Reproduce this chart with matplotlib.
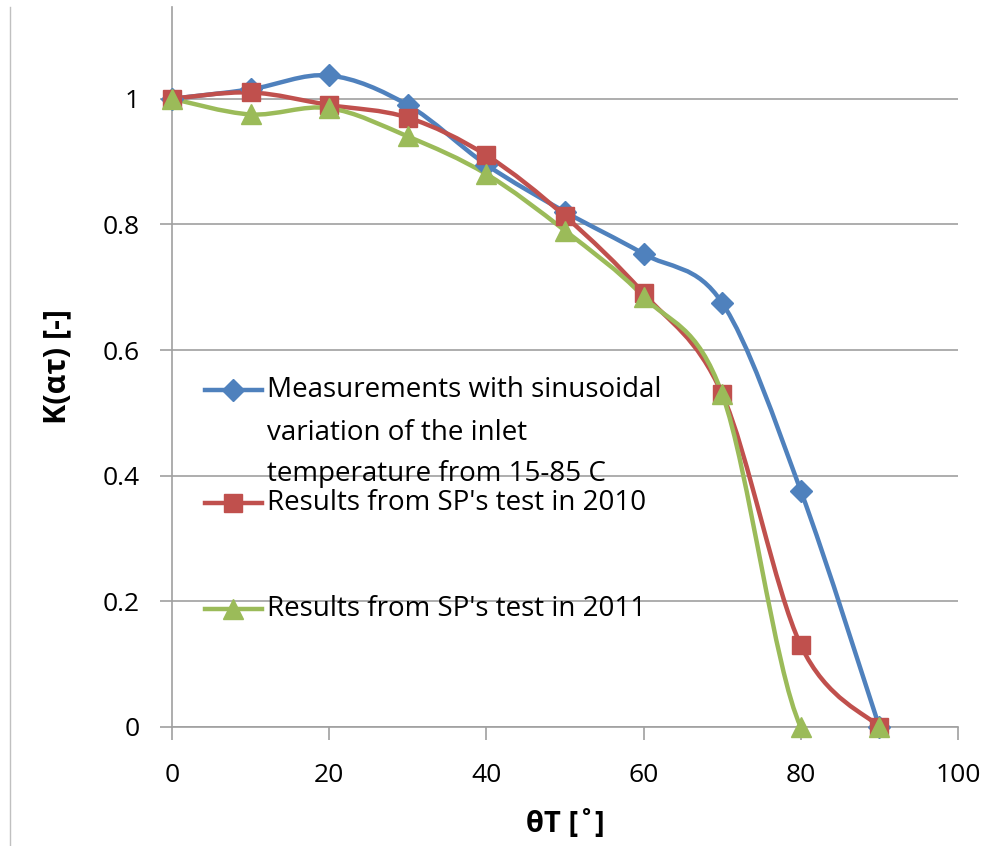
import matplotlib
matplotlib.use('Agg')
import matplotlib.pyplot as plt
from matplotlib.path import Path
from matplotlib.patches import PathPatch
from matplotlib.lines import Line2D
import numpy as np

plt.rcParams['font.family'] = ['Open Sans', 'DejaVu Sans']

# data
angles = [0, 10, 20, 30, 40, 50, 60, 70, 80, 90]
k_sinus = [1.0, 1.015, 1.037, 0.99, 0.895, 0.82, 0.753, 0.675, 0.376, 0.0]
k_2010 = [1.0, 1.01, 0.99, 0.97, 0.91, 0.813, 0.69, 0.53, 0.13, 0.0]
k_2011 = [1.0, 0.975, 0.985, 0.94, 0.88, 0.79, 0.685, 0.53, 0.0, 0.0]

labels = [["Measurements with sinusoidal", "variation of the inlet", "temperature from 15-85 C"],
          ["Results from SP's test in 2010"],
          ["Results from SP's test in 2011"]]
colors = ['#4F81BD', '#C0504D', '#9BBB59']
markers = ['D', 's', '^']
msizes = [11, 13, 15]


def smooth_path(x, y):
    # Excel-like smoothed line: cubic bezier through the points
    p = np.column_stack([x, y]).astype(float)
    n = len(p)
    verts = [p[0]]
    codes = [Path.MOVETO]
    for i in range(n - 1):
        p0 = p[i - 1] if i > 0 else p[i]
        p1 = p[i]
        p2 = p[i + 1]
        p3 = p[i + 2] if i + 2 < n else p[i + 1]
        c1 = p1 + (p2 - p0) / 6.0
        c2 = p2 - (p3 - p1) / 6.0
        verts += [c1, c2, p2]
        codes += [Path.CURVE4] * 3
    return Path(verts, codes)


fig = plt.figure(figsize=(9.86, 8.46), dpi=100)
ax = fig.add_axes([0.1744, 0.1407, 0.7972, 0.851])

for ys, c, m, ms in zip([k_sinus, k_2010, k_2011], colors, markers, msizes):
    ax.add_patch(PathPatch(smooth_path(angles, ys), facecolor='none', edgecolor=c, lw=3.2, zorder=3))
    ax.plot(angles, ys, linestyle='none', marker=m, color=c, markersize=ms, zorder=4, clip_on=False)

ax.set_xlim(0, 100)
ax.set_ylim(0, 1.146)
ax.set_xticks([0, 20, 40, 60, 80, 100])
ax.set_yticks([0, 0.2, 0.4, 0.6, 0.8, 1])
ax.set_yticklabels(['0', '0.2', '0.4', '0.6', '0.8', '1'])
ax.grid(axis='y', color='#a0a0a0', lw=1.2)
ax.set_axisbelow(True)
for s in ['top', 'right']:
    ax.spines[s].set_visible(False)
for s in ['left', 'bottom']:
    ax.spines[s].set_color('#a0a0a0')
    ax.spines[s].set_linewidth(1.2)
ax.tick_params(axis='both', colors='#a0a0a0', length=9, width=1.2, labelsize=19, labelcolor='black')
ax.tick_params(axis='x', pad=17)
ax.tick_params(axis='y', pad=14)
ax.set_xlabel('θT [˚]', fontsize=21, fontweight='bold', labelpad=16)
ax.set_ylabel('K(ατ) [-]', fontsize=22, fontweight='bold', labelpad=22)

# legend drawn inside the plot
leg_y = [[0.468, 0.409, 0.351], [0.311], [0.1639]]
for lab, c, m, ms, ys in zip(labels, colors, markers, msizes, leg_y):
    ax.add_line(Line2D([0.042, 0.1145], [ys[0], ys[0]], transform=ax.transAxes, color=c, lw=3.2))
    ax.plot([0.078], [ys[0]], transform=ax.transAxes, marker=m, color=c, markersize=ms, linestyle='none')
    for line, yy in zip(lab, ys):
        ax.text(0.121, yy, line, transform=ax.transAxes, fontsize=20, va='center')

# chart border line at the left
fig.add_artist(Line2D([0.0101, 0.0101], [0, 0.9917], transform=fig.transFigure, color='#c0c0c0', lw=1))

fig.savefig('out.png', dpi=100)
